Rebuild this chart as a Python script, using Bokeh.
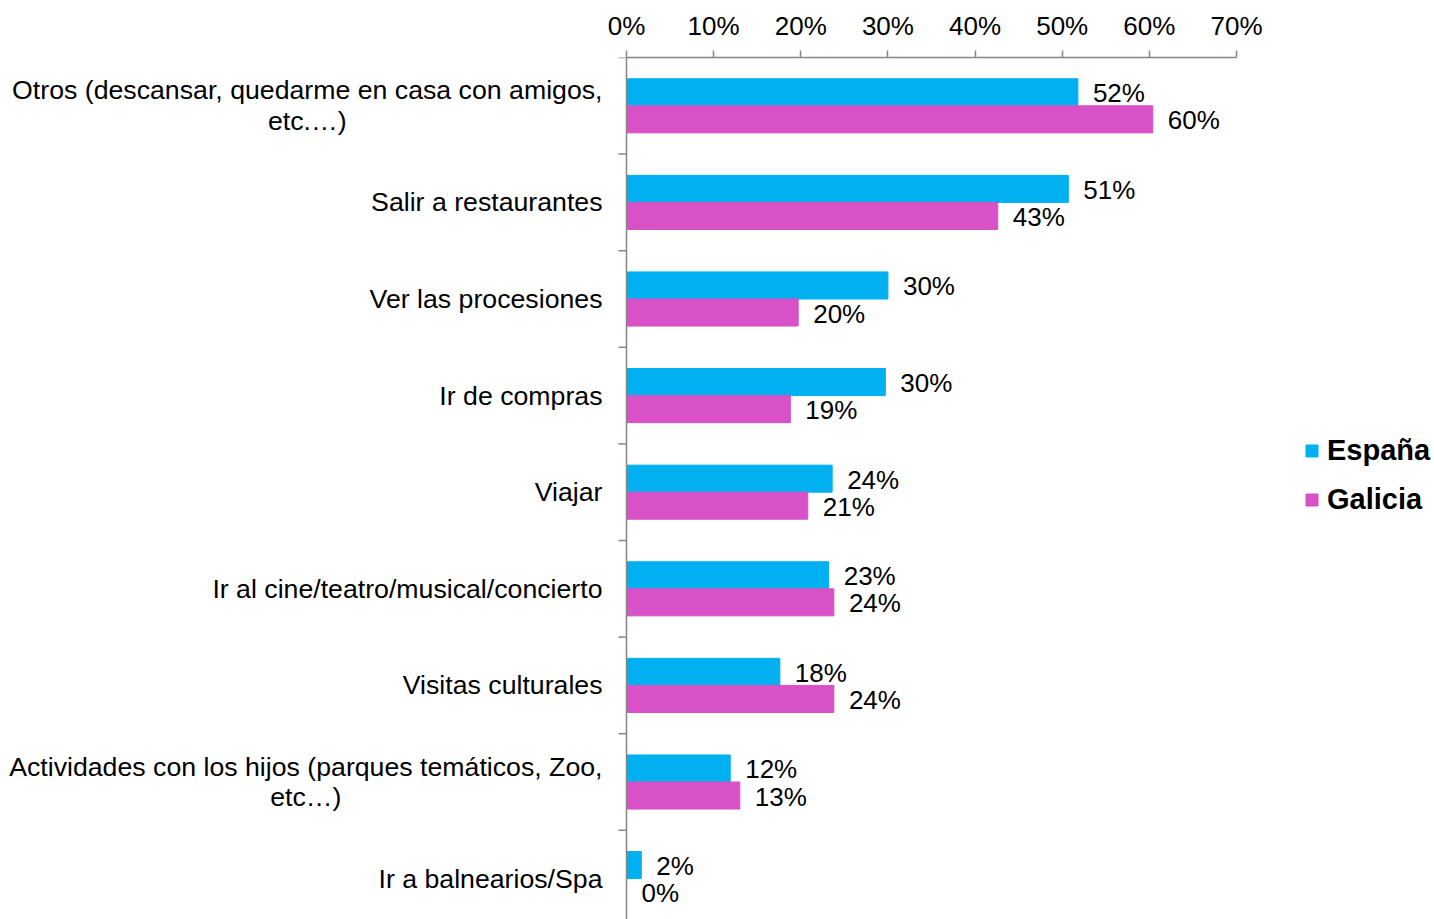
from bokeh.plotting import figure
from bokeh.models import ColumnDataSource, Range1d, FixedTicker, PrintfTickFormatter, Span, Legend, LegendItem
from bokeh.core.properties import value
from bokeh.embed import file_html
from bokeh.resources import INLINE

categories = [
    "Otros (descansar, quedarme en casa con amigos,\netc.\u2026)",
    "Salir a restaurantes",
    "Ver las procesiones",
    "Ir de compras",
    "Viajar",
    "Ir al cine/teatro/musical/concierto",
    "Visitas culturales",
    "Actividades con los hijos (parques tem\u00e1ticos, Zoo,\netc\u2026)",
    "Ir a balnearios/Spa",
]
espana = [51.8, 50.7, 30.0, 29.7, 23.6, 23.2, 17.6, 11.9, 1.7]
galicia = [60.4, 42.6, 19.7, 18.8, 20.8, 23.8, 23.8, 13.0, 0.0]
x_ticks = [0, 10, 20, 30, 40, 50, 60, 70]
series_names = ["Espa\u00f1a", "Galicia"]

C_ESP = "#00B0F0"
C_GAL = "#D951C6"
AX = "#868686"
FONT = "Liberation Sans"

W, H = 1434, 919
TOP = 57
idx = list(range(len(categories)))
bar_h = 0.28
src_e = ColumnDataSource(dict(y=[i - bar_h / 2 for i in idx], v=espana,
                              lab=[f"{round(v)}%" for v in espana]))
src_g = ColumnDataSource(dict(y=[i + bar_h / 2 for i in idx], v=galicia,
                              lab=[f"{round(v)}%" for v in galicia]))
src_c = ColumnDataSource(dict(y=idx, x=[0] * len(idx), t=categories))

px_per_unit = 610 / 70.0
p = figure(width=W, height=H, output_backend="svg", toolbar_location=None,
           x_axis_location="above", y_axis_location=None,
           x_range=Range1d(-626 / px_per_unit, (W - 626) / px_per_unit),
           y_range=Range1d(-0.5 + (H - TOP) / 96.6, -0.5),
           min_border_left=0, min_border_right=0, min_border_bottom=0, min_border_top=TOP)
p.outline_line_color = None
p.xgrid.visible = False
p.ygrid.visible = False
p.background_fill_color = "white"

ax = p.xaxis[0]
ax.ticker = FixedTicker(ticks=x_ticks)
ax.formatter = PrintfTickFormatter(format="%d%%")
ax.bounds = (0, 70)
ax.axis_line_color = AX
ax.axis_line_width = 1.5
ax.major_tick_line_color = AX
ax.major_tick_line_width = 1.5
ax.major_tick_out = 7
ax.major_tick_in = 0
ax.minor_tick_line_color = None
ax.major_label_text_font = FONT
ax.major_label_text_font_size = "26px"
ax.major_label_text_color = "black"
ax.major_label_standoff = 10

# vertical category axis line and separator ticks
p.add_layout(Span(location=0, dimension="height", line_color=AX, line_width=1.5))
sep = [i - 0.5 for i in idx]
p.segment(x0=[-8 / px_per_unit] * len(sep), x1=[0] * len(sep), y0=sep, y1=sep,
          line_color=AX, line_width=1.5)

r_e = p.hbar(y="y", left=0, right="v", height=bar_h, source=src_e,
             fill_color=C_ESP, line_color=C_ESP)
r_g = p.hbar(y="y", left=0, right="v", height=bar_h, source=src_g,
             fill_color=C_GAL, line_color=C_GAL)

for s in (src_e, src_g):
    p.text(x="v", y="y", text="lab", source=s, x_offset=15, y_offset=1,
           text_align="left", text_baseline="middle",
           text_font=value(FONT), text_font_size="26px", text_color="black")

p.text(x="x", y="y", text="t", source=src_c, x_offset=-24,
       anchor="center_right", text_align="center", text_baseline="middle",
       text_font=value(FONT), text_font_size="26.7px", text_color="black",
       text_line_height=1.03)

legend = Legend(items=[LegendItem(label=series_names[0], renderers=[r_e]),
                       LegendItem(label=series_names[1], renderers=[r_g])],
                location=(1304, 403), orientation="vertical",
                glyph_width=15, glyph_height=15, label_standoff=8,
                label_height=34, spacing=15, padding=0, margin=0,
                border_line_alpha=0, background_fill_alpha=0,
                label_text_font=FONT, label_text_font_size="29px",
                label_text_font_style="bold", label_text_color="black")
p.add_layout(legend)

open("out.html", "w").write(file_html(p, INLINE))
